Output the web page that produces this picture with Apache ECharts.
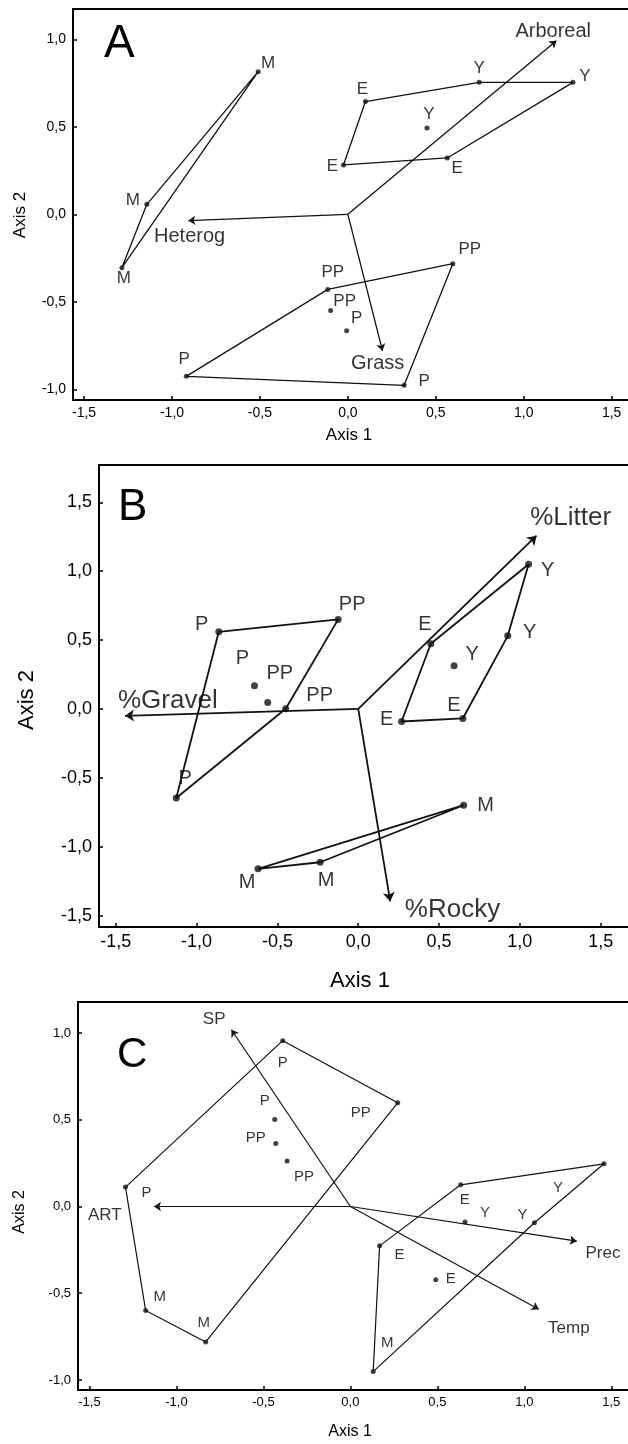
<!DOCTYPE html>
<html>
<head>
<meta charset="utf-8">
<script src="https://cdn.jsdelivr.net/npm/echarts@6/dist/echarts.min.js"></script>
<style>
  html, body { margin: 0; padding: 0; background: #fff; }
  #chart { width: 628px; height: 1444px; }
</style>
</head>
<body>
<div id="chart"></div>
<script>
// ---- panel A (structural habitat) ----
const aNames = ['M', 'M', 'M', 'E', 'Y', 'Y', 'Y', 'E', 'E', 'PP', 'PP', 'PP', 'P', 'P', 'P']
const aX = [-0.51, -1.143, -1.285, 0.10, 0.747, 1.28, 0.45, -0.025, 0.565, 0.597, -0.114, -0.098, -0.007, -0.919, 0.32]
const aY = [0.815, 0.057, -0.305, 0.644, 0.754, 0.754, 0.493, 0.282, 0.322, -0.282, -0.429, -0.549, -0.665, -0.926, -0.977]
const aHulls = [[0, 1, 2, 0], [3, 4, 5, 8, 7, 3], [10, 9, 14, 13, 10]]
const aVectors = ['Arboreal', 'Heterog', 'Grass']
const aVecEnds = [[1.186, 0.992], [-0.907, -0.036], [0.197, -0.78]]
const aVecText = [[1.168, 1.044], [-0.90, -0.124], [0.169, -0.855]]

// ---- panel B (ground cover) ----
const bNames = ['P', 'PP', 'P', 'PP', 'PP', 'P', 'E', 'Y', 'Y', 'Y', 'E', 'E', 'M', 'M', 'M']
const bX = [-0.863, -0.124, -0.642, -0.56, -0.449, -1.126, 0.449, 1.054, 0.925, 0.593, 0.647, 0.268, 0.652, -0.62, -0.236]
const bY = [0.56, 0.65, 0.168, 0.047, 0.001, -0.646, 0.473, 1.05, 0.531, 0.313, -0.069, -0.091, -0.699, -1.161, -1.113]
const bHulls = [[0, 1, 4, 5, 0], [6, 7, 8, 10, 11, 6], [12, 13, 14, 12]]
const bVectors = ['%Litter', '%Gravel', '%Rocky']
const bVecEnds = [[1.103, 1.258], [-1.443, -0.05], [0.198, -1.397]]
const bVecText = [[1.314, 1.391], [-1.178, 0.062], [0.583, -1.459]]

// ---- panel C (climate) ----
const cNames = ['P', 'P', 'PP', 'M', 'M', 'P', 'PP', 'PP', 'E', 'Y', 'Y', 'M', 'E', 'Y', 'E']
const cX = [-1.293, -0.389, 0.272, -0.832, -1.177, -0.435, -0.429, -0.364, 0.634, 1.458, 1.058, 0.131, 0.168, 0.659, 0.491]
const cY = [0.112, 0.956, 0.598, -0.781, -0.6, 0.502, 0.363, 0.263, 0.125, 0.246, -0.094, -0.952, -0.227, -0.09, -0.423]
const cHulls = [[0, 1, 2, 3, 4, 0], [8, 9, 10, 11, 12, 8]]
const cVectors = ['SP', 'ART', 'Prec', 'Temp']
const cVecEnds = [[-0.684, 1.019], [-1.129, 0], [1.302, -0.2], [1.083, -0.592]]
const cVecText = [[-0.783, 1.077], [-1.412, -0.048], [1.452, -0.269], [1.256, -0.702]]

const ticks = [-1.5, -1, -0.5, 0, 0.5, 1, 1.5]

// label offsets (px) for each point label, kept apart from the data
const aLabelOff = [[10, -8], [-14, -4], [2, 11], [-3, -12], [0, -14], [12, -6], [2, -14], [-11, 1], [10, 10], [17, -14], [5, -17], [14, -9], [10, -12], [-2, -17], [20, -4]]
const bLabelOff = [[-17, -7], [14, -15], [-12, -27], [12, -29], [34, -13], [9, -19], [-6, -19], [19, 6], [22, -3], [18, -11], [-9, -13], [-15, -2], [22, 0], [-11, 14], [6, 18]]
const cLabelOff = [[21, 6], [0, 22], [-37, 10], [-2, -19], [14, -14], [-10, -19], [-20, -6], [17, 16], [4, 15], [-46, 24], [-12, -8], [14, -29], [20, 9], [20, -9], [15, -1]]

const FONT = 'Liberation Sans, Arial, sans-serif'

// 三个面板的布局
const panels = [
  { letter: 'A', names: aNames, xs: aX, ys: aY, hulls: aHulls, vec: aVectors, ends: aVecEnds, text: aVecText, off: aLabelOff,
    grid: { left: 73, top: 9, width: 555, height: 391 }, xr: [-1.563, 1.593], yr: [-1.061, 1.173], yTicks: [-1, -0.5, 0, 0.5, 1],
    font: 17, vfont: 20, tfont: 14, nfont: 17, dot: 5, lw: 1.3, letterPos: [104, 21], letterSize: 46,
    x1Name: [349, 435], y2Name: [20, 215] },
  { letter: 'B', names: bNames, xs: bX, ys: bY, hulls: bHulls, vec: bVectors, ends: bVecEnds, text: bVecText, off: bLabelOff,
    grid: { left: 99, top: 465, width: 529, height: 462 }, xr: [-1.604, 1.669], yr: [-1.583, 1.771], yTicks: [-1.5, -1, -0.5, 0, 0.5, 1, 1.5],
    font: 20, vfont: 26, tfont: 18, nfont: 22, dot: 7, lw: 1.8, letterPos: [118, 486], letterSize: 44,
    x1Name: [360, 981], y2Name: [27, 700] },
  { letter: 'C', names: cNames, xs: cX, ys: cY, hulls: cHulls, vec: cVectors, ends: cVecEnds, text: cVecText, off: cLabelOff,
    grid: { left: 78, top: 1002, width: 550, height: 388 }, xr: [-1.566, 1.596], yr: [-1.058, 1.179], yTicks: [-1, -0.5, 0, 0.5, 1],
    font: 15, vfont: 17, tfont: 13, nfont: 16, dot: 5, lw: 1.2, letterPos: [117, 1034], letterSize: 42,
    x1Name: [350, 1432], y2Name: [20, 1212] }
]

const fmt = v => v.toFixed(1).replace('.', ',')

const grids = [], xAxes = [], yAxes = [], series = [], graphics = []

panels.forEach((p, i) => {
  grids.push(p.grid)
  const axisLine = { onZero: false, lineStyle: { color: '#000', width: 2 } }
  xAxes.push({
    gridIndex: i, type: 'value', min: p.xr[0], max: p.xr[1], position: 'bottom',
    axisLine, splitLine: { show: false },
    axisTick: { inside: true, length: 4, customValues: ticks, lineStyle: { color: '#000', width: 1.5 } },
    axisLabel: { customValues: ticks, formatter: fmt, fontFamily: FONT, fontSize: p.tfont, color: '#000', margin: 6 }
  })
  yAxes.push({
    gridIndex: i, type: 'value', min: p.yr[0], max: p.yr[1], position: 'left',
    axisLine, splitLine: { show: false },
    axisTick: { inside: true, length: 4, customValues: p.yTicks, lineStyle: { color: '#000', width: 1.5 } },
    axisLabel: { customValues: p.yTicks, formatter: fmt, fontFamily: FONT, fontSize: p.tfont, color: '#000', margin: 7 }
  })

  // 包络多边形
  p.hulls.forEach(h => {
    series.push({
      type: 'line', xAxisIndex: i, yAxisIndex: i, symbol: 'none', silent: true,
      data: h.map(k => [p.xs[k], p.ys[k]]),
      lineStyle: { color: '#111', width: p.lw }
    })
  })

  // 样点
  series.push({
    type: 'scatter', xAxisIndex: i, yAxisIndex: i, symbolSize: p.dot, silent: true,
    itemStyle: { color: '#111' },
    data: p.xs.map((x, k) => ({
      value: [x, p.ys[k]],
      label: { show: true, position: 'inside', offset: p.off[k], formatter: p.names[k],
        color: '#000', fontFamily: FONT, fontSize: p.font, textBorderWidth: 0 }
    }))
  })

  // 环境变量箭头
  series.push({
    type: 'lines', coordinateSystem: 'cartesian2d', xAxisIndex: i, yAxisIndex: i, silent: true,
    symbol: ['none', 'arrow'], symbolSize: p.lw > 1.5 ? 9 : 7,
    lineStyle: { color: '#111', width: p.lw, opacity: 1 },
    data: p.ends.map(e => ({ coords: [[0, 0], e] }))
  })
  series.push({
    type: 'scatter', xAxisIndex: i, yAxisIndex: i, symbolSize: 0, silent: true,
    data: p.text.map((t, k) => ({
      value: t,
      label: { show: true, position: 'inside', formatter: p.vec[k],
        color: '#000', fontFamily: FONT, fontSize: p.vfont, textBorderWidth: 0 }
    }))
  })

  // top frame line
  graphics.push({
    type: 'line', silent: true,
    shape: { x1: p.grid.left - 1, y1: p.grid.top, x2: 628, y2: p.grid.top },
    style: { stroke: '#000', lineWidth: 2 }
  })
  graphics.push({
    type: 'text', left: p.letterPos[0], top: p.letterPos[1], silent: true,
    style: { text: p.letter, font: p.letterSize + 'px ' + FONT, fill: '#000' }
  })
  // axis titles
  graphics.push({
    type: 'text', x: p.x1Name[0], y: p.x1Name[1], silent: true,
    style: { text: 'Axis 1', font: p.nfont + 'px ' + FONT, fill: '#000', align: 'center', verticalAlign: 'middle' }
  })
  graphics.push({
    type: 'text', x: p.y2Name[0], y: p.y2Name[1], rotation: Math.PI / 2, silent: true,
    style: { text: 'Axis 2', font: p.nfont + 'px ' + FONT, fill: '#000', align: 'center', verticalAlign: 'middle' }
  })
})

const chart = echarts.init(document.getElementById('chart'))
chart.setOption({
  animation: false,
  grid: grids,
  xAxis: xAxes,
  yAxis: yAxes,
  series,
  graphic: graphics
})
</script>
</body>
</html>
